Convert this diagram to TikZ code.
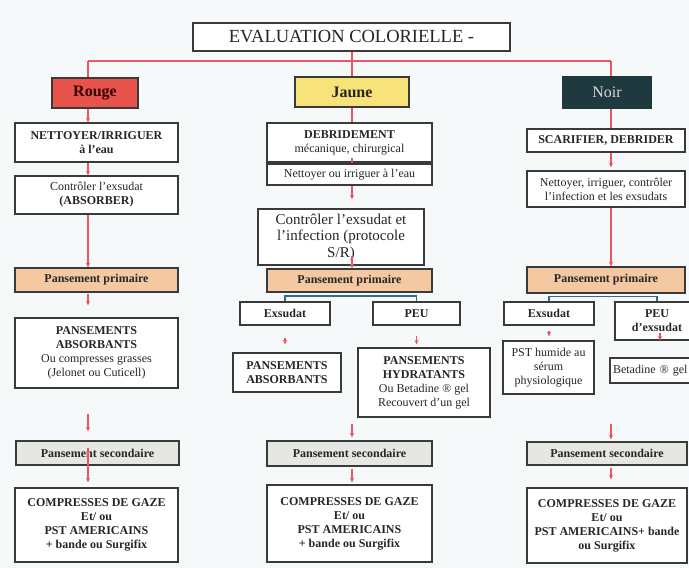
\documentclass[tikz,border=0pt]{standalone}
\usepackage{fontspec}
\setmainfont{Liberation Serif}
\usetikzlibrary{arrows.meta,calc}
\definecolor{lnred}{HTML}{EE5560}
\definecolor{bxline}{HTML}{3A3A3A}
\definecolor{rougef}{HTML}{E8534B}
\definecolor{jaunef}{HTML}{F8E27A}
\definecolor{noirf}{HTML}{1F3A3E}
\definecolor{primf}{HTML}{F4C8A0}
\definecolor{secf}{HTML}{E6E7E2}
\definecolor{blueln}{HTML}{2F6C8C}
\definecolor{bgc}{HTML}{F6F9FA}
\tikzset{
  box/.style={draw=bxline, line width=1.2pt, fill=white, align=center, inner sep=1pt,
    font=\fontsize{12}{14}\selectfont, text=black!85},
  rl/.style={draw=lnred, line width=1.3pt},
  ra/.style={draw=lnred, line width=1.3pt, -{Stealth[length=4.5pt,width=4pt]}},
  bl/.style={draw=blueln, line width=1.6pt},
  colbox/.style={font=\fontsize{16}{18}\selectfont\bfseries},
}
\newcommand{\bx}[6]{% name, x1, x2, y1, y2, style
  \node[box, #6, minimum width={#3-#2}, minimum height={#5-#4}] (#1) at ({(#2+#3)/2},{(#4+#5)/2})}
\begin{document}
\begin{tikzpicture}[x={(1pt,0)}, y={(0,-1pt)}]
\fill[bgc] (0,0) rectangle (689,568);
\useasboundingbox (0,0) rectangle (689,568);

% title and colours
\bx{title}{193}{510}{23}{51}{font=\fontsize{18.5}{20}\selectfont}{EVALUATION COLORIELLE -};
\bx{rouge}{52}{138}{78}{108}{fill=rougef, colbox, text=black!80!red}{Rouge};
\bx{jaune}{295}{409}{77}{107}{fill=jaunef, colbox}{Jaune};
\bx{noir}{563}{651}{77}{108}{fill=noirf, draw=noirf, text=white!85!black, font=\fontsize{16}{18}\selectfont}{Noir};

% left column
\bx{net}{15}{178}{123}{162}{}{\textbf{NETTOYER/IRRIGUER}\\\textbf{à l’eau}};
\bx{ctl}{15}{178}{176}{214}{}{Contrôler l’exsudat\\\textbf{(ABSORBER)}};
\bx{ppa}{15}{178}{268}{292}{fill=primf}{\textbf{Pansement primaire}};
\bx{paa}{15}{178}{318}{388}{}{\textbf{PANSEMENTS}\\\textbf{ABSORBANTS}\\Ou compresses grasses\\(Jelonet ou Cuticell)};
\bx{psa}{16}{179}{441}{465}{fill=secf}{\textbf{Pansement secondaire}};
\bx{cga}{15}{178}{488}{562}{font=\fontsize{12}{14}\selectfont\bfseries}{COMPRESSES DE GAZE\\Et/ ou\\PST AMERICAINS\\+ bande ou Surgifix};

% middle column
\bx{deb}{267}{432}{123}{162}{}{\textbf{DEBRIDEMENT}\\mécanique, chirurgical};
\bx{nim}{267}{432}{164}{185}{}{Nettoyer ou irriguer à l’eau};
\bx{cti}{258}{424}{209}{265}{font=\fontsize{15}{16.5}\selectfont}{Contrôler l’exsudat et\\l’infection (protocole\\S/R)};
\bx{ppb}{267}{432}{269}{292}{fill=primf}{\textbf{Pansement primaire}};
\bx{exb}{240}{330}{302}{325}{}{\textbf{Exsudat}};
\bx{peub}{373}{460}{302}{325}{}{\textbf{PEU}};
\bx{pab}{233}{341}{353}{392}{font=\fontsize{12}{14}\selectfont\bfseries}{PANSEMENTS\\ABSORBANTS};
\bx{hyd}{358}{490}{348}{417}{}{\textbf{PANSEMENTS}\\\textbf{HYDRATANTS}\\Ou Betadine ® gel\\Recouvert d’un gel};
\bx{psb}{267}{432}{441}{466}{fill=secf}{\textbf{Pansement secondaire}};
\bx{cgb}{267}{432}{485}{562}{font=\fontsize{12}{14}\selectfont\bfseries}{COMPRESSES DE GAZE\\Et/ ou\\PST AMERICAINS\\+ bande ou Surgifix};

% right column
\bx{sca}{527}{685}{129}{152}{}{\textbf{SCARIFIER, DEBRIDER}};
\bx{nic}{527}{685}{171}{207}{}{Nettoyer, irriguer, contrôler\\l’infection et les exsudats};
\bx{ppc}{527}{685}{267}{293}{fill=primf}{\textbf{Pansement primaire}};
\bx{exc}{504}{594}{302}{325}{}{\textbf{Exsudat}};
\bx{peuc}{615}{699}{302}{340}{}{\textbf{PEU}\\\textbf{d’exsudat}};
\bx{pst}{503}{594}{341}{394}{}{PST humide au\\sérum\\physiologique};
\bx{bet}{610}{700}{358}{383}{text width=84pt, align=left, inner xsep=2pt}{Betadine ® gel};
\bx{psc}{527}{687}{442}{465}{fill=secf}{\textbf{Pansement secondaire}};
\bx{cgc}{527}{687}{488}{563}{font=\fontsize{12}{14}\selectfont\bfseries}{COMPRESSES DE GAZE\\Et/ ou\\PST AMERICAINS+ bande\\ou Surgifix};

% top bar
\coordinate (bL) at (88,61);
\coordinate (bM) at (352,61);
\coordinate (bR) at (611,61);
\coordinate (xP) at (657,0);
\coordinate (xQ) at (660,0);
\draw[rl] (bL) -- (bR);
\draw[rl] (title.south -| bM) -- (bM);
\draw[rl] (bL) -- (rouge.north -| bL);
\draw[rl] (bM) -- (jaune.north -| bM);
\draw[rl] (bR) -- (noir.north -| bR);

% left connectors
\draw[ra] (rouge.south -| bL) -- (net.north -| bL);
\draw[ra] (net.south -| bL) -- (ctl.north -| bL);
\draw[ra] (ctl.south -| bL) -- (ppa.north -| bL);
\draw[ra, shorten <=1pt, shorten >=12pt] (ppa.south -| bL) -- (paa.north -| bL);
\draw[ra, shorten <=25pt, shorten >=9pt] (paa.south -| bL) -- (psa.north -| bL);
\draw[ra, shorten <=-18pt, shorten >=5pt] (psa.south -| bL) -- (cga.north -| bL);

% middle connectors
\draw[rl] (jaune.south -| bM) -- (deb.north -| bM);
\draw[rl, shorten <=-5pt] (deb.south -| bM) -- (nim.north -| bM);
\draw[ra, shorten >=9pt] (nim.south -| bM) -- (cti.north -| bM);
\draw[ra, shorten <=-10pt] (cti.south -| bM) -- (ppb.north -| bM);
\draw[bl] (exb.north) |- ($(ppb.south)+(0,3.5)$) -| (peub.north);
\draw[ra, shorten <=12pt, shorten >=8pt] (exb.south) -- (exb.south |- pab.north);
\draw[ra, shorten <=10pt, shorten >=3pt] (peub.south) -- (peub.south |- hyd.north);
\coordinate (mB) at (352,424);
\draw[ra, shorten >=3pt] (mB) -- (psb.north -| mB);
\draw[ra, shorten <=2pt, shorten >=2pt] (psb.south -| bM) -- (cgb.north -| bM);

% right connectors
\draw[rl] (noir.south -| bR) -- (sca.north -| bR);
\draw[ra, shorten >=3pt] (sca.south -| bR) -- (nic.north -| bR);
\draw[ra] (nic.south -| bR) -- (ppc.north -| bR);
\draw[bl] (exc.north) |- ($(ppc.south)+(0,3)$) -| (peuc.north -| xP);
\draw[ra, shorten <=5pt, shorten >=4pt] (exc.south) -- (exc.south |- pst.north);
\draw[ra] ([yshift=8pt]peuc.south -| xQ) -- (peuc.south -| xQ);
\coordinate (rB) at (611,424);
\draw[ra, shorten >=2pt] (rB) -- (psc.north -| rB);
\draw[ra, shorten <=2pt, shorten >=8pt] (psc.south -| bR) -- (cgc.north -| bR);
\end{tikzpicture}
\end{document}
